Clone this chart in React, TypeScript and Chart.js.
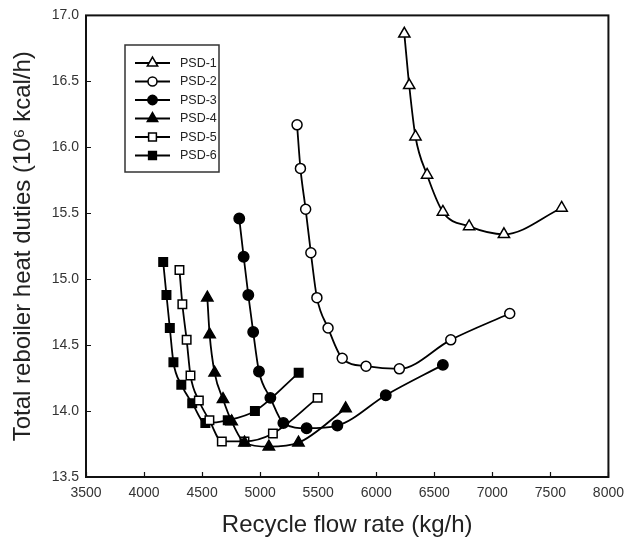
import React, { useEffect, useRef } from 'react';
import { Chart, registerables } from 'chart.js';
import { drawPoint } from 'chart.js/helpers';

Chart.register(...registerables);

const seriesNames = ['PSD-1', 'PSD-2', 'PSD-3', 'PSD-4', 'PSD-5', 'PSD-6'];

const psd1X = [6242, 6284, 6338, 6438, 6574, 6800, 7100, 7597];
const psd1Y = [16.86, 16.47, 16.08, 15.79, 15.51, 15.40, 15.34, 15.54];

const psd2X = [5318, 5347, 5392, 5437, 5489, 5585, 5707, 5912, 6199, 6642, 7150];
const psd2Y = [16.17, 15.84, 15.53, 15.2, 14.86, 14.63, 14.4, 14.34, 14.32, 14.54, 14.74];

const psd3X = [4820, 4858, 4898, 4940, 4990, 5088, 5200, 5400, 5665, 6082, 6574];
const psd3Y = [15.46, 15.17, 14.88, 14.6, 14.3, 14.1, 13.91, 13.87, 13.89, 14.12, 14.35];

const psd4X = [4545, 4565, 4608, 4680, 4755, 4865, 5075, 5330, 5736];
const psd4Y = [14.86, 14.58, 14.29, 14.09, 13.92, 13.76, 13.73, 13.76, 14.02];

const psd5X = [4305, 4330, 4367, 4400, 4472, 4563, 4670, 4865, 5110, 5495];
const psd5Y = [15.07, 14.81, 14.54, 14.27, 14.08, 13.93, 13.77, 13.77, 13.83, 14.1];

const psd6X = [4165, 4193, 4222, 4253, 4321, 4415, 4528, 4721, 4955, 5332];
const psd6Y = [15.13, 14.88, 14.63, 14.37, 14.2, 14.06, 13.91, 13.93, 14.0, 14.29];

const xTicks = [3500, 4000, 4500, 5000, 5500, 6000, 6500, 7000, 7500, 8000];
const yTicks = [13.5, 14.0, 14.5, 15.0, 15.5, 16.0, 16.5, 17.0];

const xTitle = 'Recycle flow rate (kg/h)';
const yTitle = 'Total reboiler heat duties (10\u2076 kcal/h)';

const allX = [psd1X, psd2X, psd3X, psd4X, psd5X, psd6X];
const allY = [psd1Y, psd2Y, psd3Y, psd4Y, psd5Y, psd6Y];

const markerStyles = [
  { pointStyle: 'triangle', fill: '#ffffff', radius: 6.5 },
  { pointStyle: 'circle', fill: '#ffffff', radius: 5 },
  { pointStyle: 'circle', fill: '#000000', radius: 5.2 },
  { pointStyle: 'triangle', fill: '#000000', radius: 6.5 },
  { pointStyle: 'rect', fill: '#ffffff', radius: 6 },
  { pointStyle: 'rect', fill: '#000000', radius: 6 },
];

const FONT = '"Liberation Sans", Arial, "DejaVu Sans", sans-serif';

const frameAndTicks = {
  id: 'frameAndTicks',
  afterDraw(chart: any) {
    const { ctx, chartArea } = chart;
    const { left, right, top, bottom } = chartArea;
    const xs = chart.scales.x;
    const ys = chart.scales.y;
    ctx.save();
    ctx.strokeStyle = '#111111';
    ctx.lineWidth = 1.2;
    ctx.beginPath();
    xTicks.forEach((v) => {
      const px = Math.round(xs.getPixelForValue(v)) + 0.5;
      ctx.moveTo(px, bottom);
      ctx.lineTo(px, bottom - 5);
    });
    yTicks.forEach((v) => {
      const py = Math.round(ys.getPixelForValue(v)) + 0.5;
      ctx.moveTo(left, py);
      ctx.lineTo(left + 5, py);
    });
    ctx.stroke();
    ctx.lineWidth = 2;
    ctx.strokeRect(left, top, right - left, bottom - top);
    ctx.restore();
  },
};

const legendBox = {
  id: 'legendBox',
  afterDraw(chart: any) {
    const { ctx } = chart;
    const bx = 125, by = 45, bw = 94, bh = 127;
    ctx.save();
    ctx.fillStyle = '#ffffff';
    ctx.fillRect(bx, by, bw, bh);
    ctx.strokeStyle = '#333333';
    ctx.lineWidth = 1.5;
    ctx.strokeRect(bx, by, bw, bh);
    seriesNames.forEach((name, i) => {
      const y = 63 + i * 18.5;
      ctx.strokeStyle = '#000000';
      ctx.lineWidth = 1.8;
      ctx.beginPath();
      ctx.moveTo(135, y);
      ctx.lineTo(170, y);
      ctx.stroke();
      const m = markerStyles[i];
      ctx.fillStyle = m.fill;
      ctx.strokeStyle = '#000000';
      ctx.lineWidth = 1.5;
      drawPoint(ctx, { pointStyle: m.pointStyle as any, radius: m.radius - 0.5, rotation: 0, borderWidth: 1.5 }, 152.5, y);
      ctx.fillStyle = '#222222';
      ctx.font = '12.5px ' + FONT;
      ctx.textAlign = 'left';
      ctx.textBaseline = 'middle';
      ctx.fillText(name, 180, y + 0.5);
    });
    ctx.restore();
  },
};

export default function App() {
  const ref = useRef<HTMLCanvasElement | null>(null);

  useEffect(() => {
    document.body.style.margin = '0';
    if (!ref.current) return;
    const datasets = seriesNames.map((name, i) => ({
      label: name,
      data: allX[i].map((x, j) => ({ x, y: allY[i][j] })),
      borderColor: '#000000',
      borderWidth: 1.8,
      backgroundColor: markerStyles[i].fill,
      pointBackgroundColor: markerStyles[i].fill,
      pointBorderColor: '#000000',
      pointBorderWidth: 1.5,
      pointStyle: markerStyles[i].pointStyle as any,
      pointRadius: markerStyles[i].radius,
      pointHoverRadius: markerStyles[i].radius,
      cubicInterpolationMode: 'monotone' as const,
      fill: false,
    }));
    const chart = new Chart(ref.current, {
      type: 'line',
      data: { datasets },
      options: {
        animation: false,
        responsive: false,
        maintainAspectRatio: false,
        devicePixelRatio: 1,
        layout: { padding: { left: 0, right: 18, top: 15, bottom: 0 } },
        plugins: {
          legend: { display: false },
          tooltip: { enabled: false },
        },
        scales: {
          x: {
            type: 'linear',
            min: 3500,
            max: 8000,
            afterBuildTicks: (scale: any) => {
              scale.ticks = xTicks.map((v) => ({ value: v }));
            },
            afterFit: (scale: any) => {
              scale.height = 65;
            },
            ticks: {
              autoSkip: false,
              maxRotation: 0,
              padding: 8,
              color: '#333333',
              font: { family: FONT, size: 14 },
              callback: (v: any) => String(v),
            },
            grid: { display: false, drawTicks: false },
            border: { display: false },
            title: {
              display: true,
              text: xTitle,
              color: '#222222',
              font: { family: FONT, size: 24 },
              padding: { top: 0, bottom: 2 },
            },
          },
          y: {
            type: 'linear',
            min: 13.5,
            max: 17.0,
            afterBuildTicks: (scale: any) => {
              scale.ticks = yTicks.map((v) => ({ value: v }));
            },
            afterFit: (scale: any) => {
              scale.width = 86;
            },
            ticks: {
              autoSkip: false,
              padding: 7,
              color: '#333333',
              font: { family: FONT, size: 14 },
              callback: (v: any) => Number(v).toFixed(1),
            },
            grid: { display: false, drawTicks: false },
            border: { display: false },
            title: {
              display: true,
              text: yTitle,
              color: '#222222',
              font: { family: FONT, size: 24 },
              padding: { top: 9, bottom: 0 },
            },
          },
        },
      },
      plugins: [frameAndTicks, legendBox],
    });
    return () => chart.destroy();
  }, []);

  return <canvas ref={ref} width={632} height={542} style={{ display: 'block' }} />;
}
